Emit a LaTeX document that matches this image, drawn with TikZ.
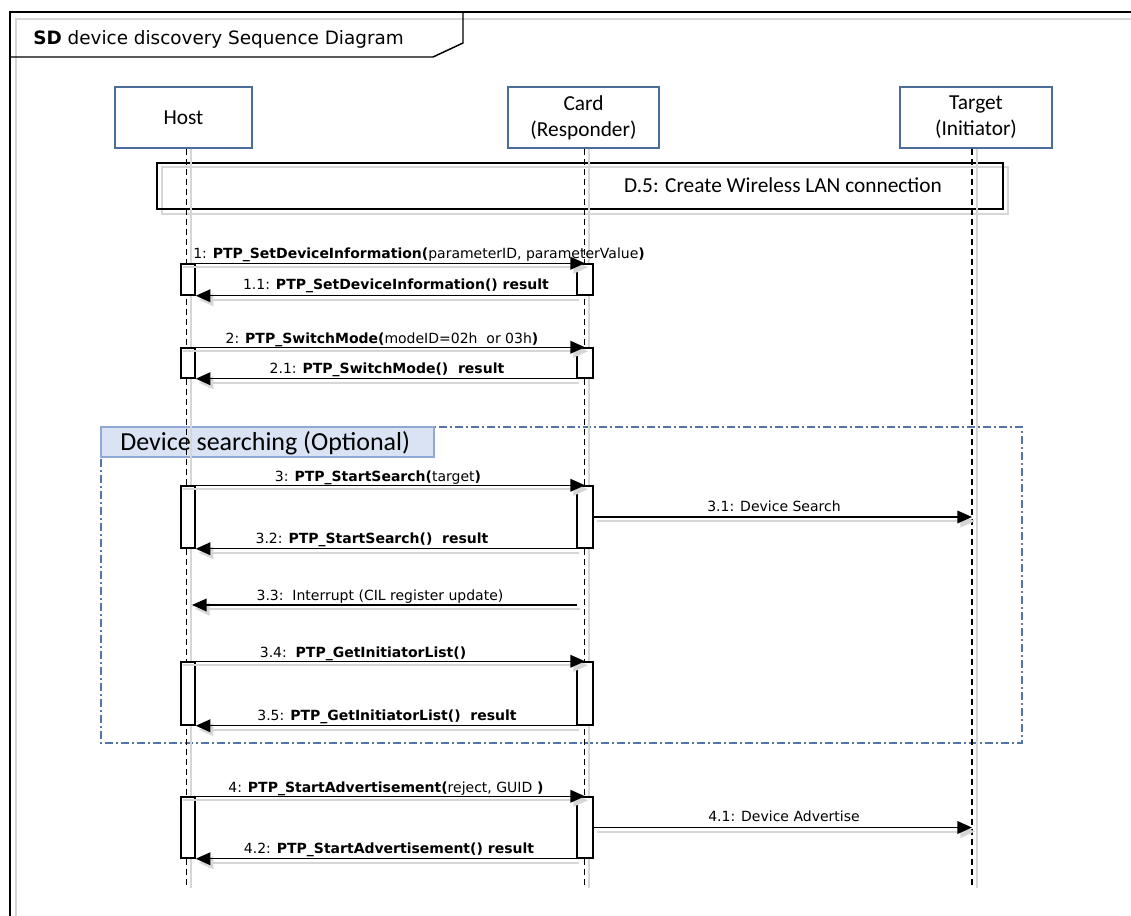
\documentclass[tikz,border=0pt]{standalone}
\usepackage{fontspec}
\setmainfont{DejaVu Sans}
\newfontfamily\boxfont{Carlito}
\usetikzlibrary{arrows.meta}

\definecolor{headblue}{HTML}{4A6D9B}
\definecolor{shadowgray}{HTML}{D6D6D6}
\definecolor{optfill}{HTML}{DAE3F3}
\definecolor{optedge}{HTML}{8EA9D6}
\definecolor{optline}{HTML}{5575A8}

\newcommand\msgfont{\fontsize{10.5}{12}\selectfont}
% a message: grey drop shadow first, then the black arrow on top
\newcommand\sdmsg[2]{%
  \draw[msgshadow] ([shift={(3,4)}]#1) -- ([shift={(3,4)}]#2);
  \draw[msgline] (#1) -- (#2);}

\begin{document}
\begin{tikzpicture}[x=0.75pt,y=-0.75pt,
  headbox/.style={draw=headblue,line width=1.1pt,fill=white,inner sep=0pt,
    minimum height=45.75pt,align=center,font=\boxfont\fontsize{16}{19.5}\selectfont},
  actbox/.style={draw=black,line width=1.1pt,fill=white,inner sep=0pt},
  hostact/.style={actbox,minimum width=10.5pt},
  cardact/.style={actbox,minimum width=12pt},
  lifeline/.style={line width=1.1pt,dash pattern=on 4.5pt off 3pt},
  lifeshadow/.style={draw=shadowgray,line width=1.5pt},
  msgline/.style={line width=1.1pt,-{Triangle[length=11pt,width=9.5pt]}},
  msgshadow/.style={draw=shadowgray,line width=1.5pt,-{Triangle[length=11pt,width=9.5pt]}},
  msglabel/.style={anchor=base,inner sep=0pt,font=\msgfont},
]
\useasboundingbox (0,0) rectangle (1131,916);

% ---- outer sequence-diagram frame with its title tab
\draw[draw=shadowgray,line width=1.2pt] (16,916) -- (16,19) -- (1131,19);
\draw[line width=1.1pt] (10,916) -- (10,12) -- (1131,12);
\draw[line width=1.1pt] (10,57) -- (433,57) -- (463,43) -- (463,12);
\node[anchor=base west,inner sep=0pt,font=\fontsize{13.8}{16}\selectfont] (title)
  at (33,45) {\textbf{SD} device discovery Sequence Diagram};

% ---- D.5 reference frame
\draw[draw=shadowgray,line width=1.2pt] (162,167) rectangle (1008,214);
\draw[line width=1.1pt] (157,163) rectangle (1003,209);
\node[anchor=base,inner sep=0pt,font=\boxfont\fontsize{16}{19}\selectfont] (d5)
  at (783,193) {D.5: Create Wireless LAN connection};

% ---- optional fragment
\draw[draw=optline,line width=0.8pt,
  dash pattern=on 6pt off 2.25pt on 1.5pt off 2.25pt] (101,427) rectangle (1022,743);
\draw[draw=optedge,fill=optfill,line width=1pt] (101,427) rectangle (434,457);
\node[anchor=base west,inner sep=0pt,font=\boxfont\fontsize{19.5}{22}\selectfont] (opt)
  at (120,450) {Device searching (Optional)};

% ---- lifeline heads
\node[headbox,minimum width=102.75pt] (host)   at (183.5,117.5) {Host};
\node[headbox,minimum width=113.25pt] (card)   at (583.5,117.5) {Card\\(Responder)};
\node[headbox,minimum width=114pt]    (target) at (976,117.5)   {Target\\(Initiator)};

% ---- lifelines
\coordinate (hl) at (186.5,888);
\coordinate (cl) at (584.5,888);
\coordinate (tl) at (972,888);
\foreach \l/\h in {hl/host,cl/card,tl/target}{
  \draw[lifeshadow] ([xshift=3.5pt]\h.south -| \l) -- ([xshift=3.5pt]\l);
  \draw[lifeline] (\h.south -| \l) -- (\l);
}

% ---- activation bars
\node[hostact,minimum height=23.25pt] (ha1) at (188,279.5) {};
\node[cardact,minimum height=23.25pt] (ca1) at (585,279.5) {};
\node[hostact,minimum height=22.5pt]  (ha2) at (188,363) {};
\node[cardact,minimum height=22.5pt]  (ca2) at (585,363) {};
\node[hostact,minimum height=46.5pt]  (ha3) at (188,517) {};
\node[cardact,minimum height=46.5pt]  (ca3) at (585,517) {};
\node[hostact,minimum height=47.25pt] (ha4) at (188,693.5) {};
\node[cardact,minimum height=47.25pt] (ca4) at (585,693.5) {};
\node[hostact,minimum height=45.75pt] (ha5) at (188,827.5) {};
\node[cardact,minimum height=45.75pt] (ca5) at (585,827.5) {};

% ---- messages
\sdmsg{ha1.north west}{ca1.north}
\sdmsg{ca1.south west}{ha1.south east}
\sdmsg{ha2.north west}{ca2.north}
\sdmsg{ca2.south west}{ha2.south east}
\sdmsg{ha3.north west}{ca3.north}
\sdmsg{ca3.east}{ca3.east -| tl}
\sdmsg{ca3.south west}{ha3.south east}
\coordinate (irqA) at (577,605);
\coordinate (irqB) at (192,605);
\sdmsg{irqA}{irqB}
\sdmsg{ha4.north west}{ca4.north}
\sdmsg{ca4.south west}{ha4.south east}
\sdmsg{ha5.north west}{ca5.north}
\sdmsg{ca5.east}{ca5.east -| tl}
\sdmsg{ca5.south west}{ha5.south east}

% ---- message labels
\node[msglabel,anchor=base west] (l1) at (193,259)
  {1: \textbf{PTP\_SetDeviceInformation(}parameterID, parameterValue\textbf{)}};
\node[msglabel] (l11) at (396,290) {1.1: \textbf{PTP\_SetDeviceInformation() result}};
\node[msglabel] (l2)  at (382,343) {2: \textbf{PTP\_SwitchMode(}modeID=02h\ \ or 03h\textbf{)}};
\node[msglabel] (l21) at (387,373) {2.1: \textbf{PTP\_SwitchMode()\ \ result}};
\node[msglabel] (l3)  at (378,481) {3: \textbf{PTP\_StartSearch(}target\textbf{)}};
\node[msglabel] (l31) at (774,511) {3.1: Device Search};
\node[msglabel] (l32) at (372,543) {3.2: \textbf{PTP\_StartSearch()\ \ result}};
\node[msglabel] (l33) at (380,600) {3.3:\ \ Interrupt (CIL register update)};
\node[msglabel] (l34) at (363,657) {3.4:\ \ \textbf{PTP\_GetInitiatorList()}};
\node[msglabel] (l35) at (387,720) {3.5: \textbf{PTP\_GetInitiatorList()\ \ result}};
\node[msglabel] (l4)  at (386,792) {4: \textbf{PTP\_StartAdvertisement(}reject, GUID\textbf{\ )}};
\node[msglabel] (l41) at (784,821) {4.1: Device Advertise};
\node[msglabel] (l42) at (389,853) {4.2: \textbf{PTP\_StartAdvertisement() result}};
\end{tikzpicture}
\end{document}
